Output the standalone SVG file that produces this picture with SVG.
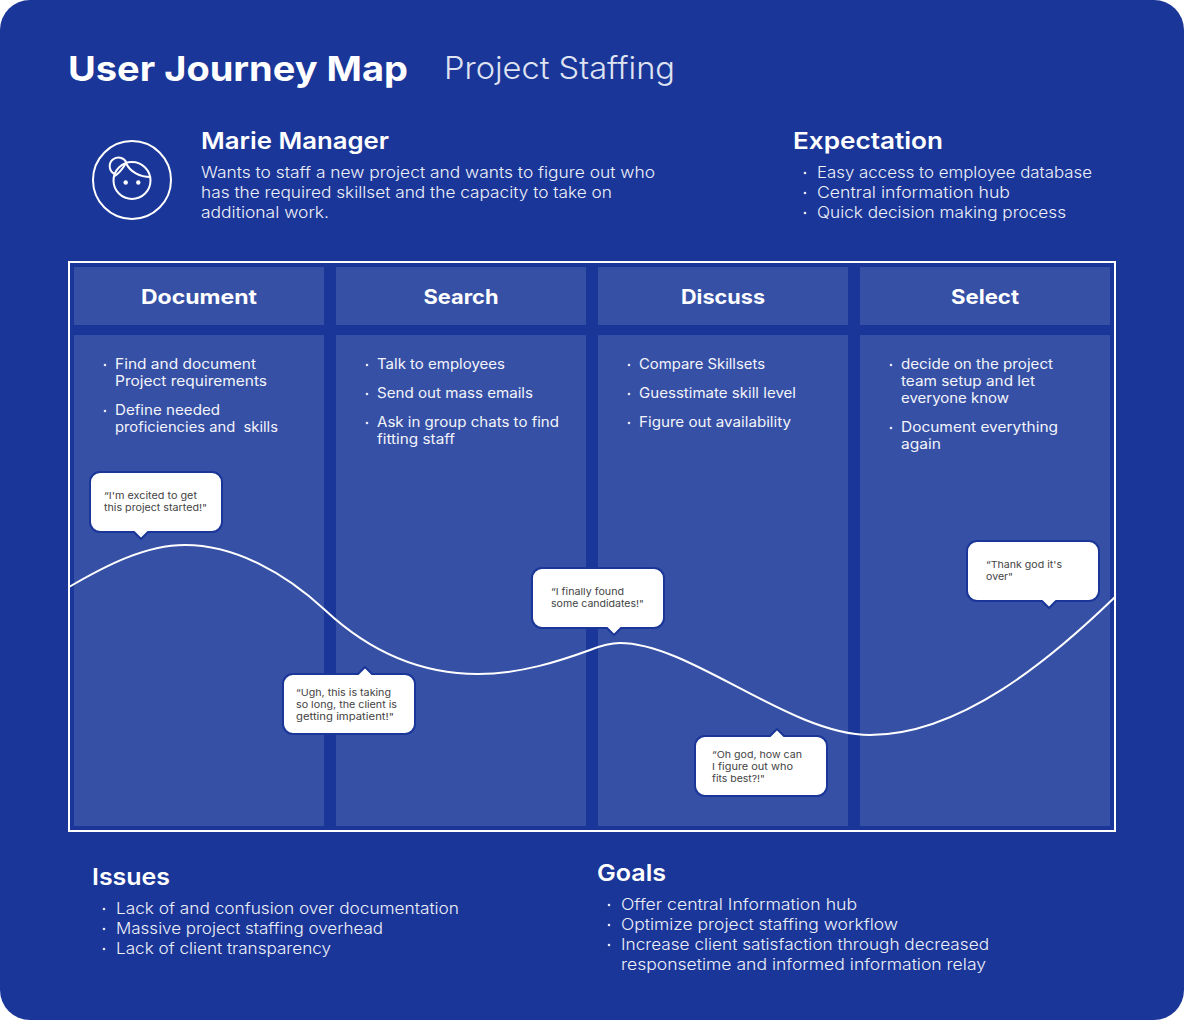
<svg xmlns="http://www.w3.org/2000/svg" width="1184" height="1020" viewBox="0 0 1184 1020">
<style>
text{font-family:Inter,"Open Sans","DejaVu Sans",sans-serif;fill:#fff}
.h1{font-size:34px;font-weight:700}
.sub{font-size:31px;font-weight:300;fill:#dfe3f2}
.h2{font-size:23px;font-weight:600}
.body{font-size:16px;font-weight:300;fill:#eef0f8}
.col{font-size:20px;font-weight:700;text-anchor:middle}
.li{font-size:14px;font-weight:400;fill:#f4f5fb;white-space:pre}
.q{font-size:9.5px;font-weight:400;fill:#444}
.panel{fill:#3650a6}
.bub{fill:#fff;stroke:#1a3698;stroke-width:2;stroke-linejoin:round}
.dot{fill:#e6e9f5}
.ic{fill:none;stroke:#fff;stroke-width:2}
</style>
<rect width="1184" height="1020" fill="#fff"/>
<rect id="background" width="1184" height="1020" rx="30" fill="#1a3698"/>
<g id="title">
<text class="h1" x="68" y="81" textLength="340" lengthAdjust="spacingAndGlyphs">User Journey Map</text>
<text class="sub" x="444" y="79" textLength="231" lengthAdjust="spacingAndGlyphs">Project Staffing</text>
</g>
<g id="persona">
<circle class="ic" cx="132" cy="180" r="39"/>
<circle class="ic" cx="132" cy="180.500" r="18.500"/>
<path class="ic" d="M114 176.500C119 173.500 122.500 169 126 163C130 172 140 177 150.500 177"/>
<path class="ic" d="M114.500 174A8.700 8.700 0 1 1 126.500 163"/>
<circle cx="125.700" cy="182.500" r="2.200" fill="#fff"/>
<circle cx="138.300" cy="182.500" r="2.200" fill="#fff"/>
<text class="h2" x="201" y="149" textLength="188" lengthAdjust="spacingAndGlyphs">Marie Manager</text>
<text class="body" x="201" y="178" textLength="454" lengthAdjust="spacingAndGlyphs">Wants to staff a new project and wants to figure out who</text>
<text class="body" x="201" y="198" textLength="411" lengthAdjust="spacingAndGlyphs">has the required skillset and the capacity to take on</text>
<text class="body" x="201" y="218" textLength="128" lengthAdjust="spacingAndGlyphs">additional work.</text>
</g>
<g id="expectation">
<text class="h2" x="793" y="149" textLength="150" lengthAdjust="spacingAndGlyphs">Expectation</text>
<circle class="dot" cx="805" cy="173" r="1.300"/><text class="body" x="817" y="178" textLength="275" lengthAdjust="spacingAndGlyphs">Easy access to employee database</text>
<circle class="dot" cx="805" cy="193" r="1.300"/><text class="body" x="817" y="198" textLength="193" lengthAdjust="spacingAndGlyphs">Central information hub</text>
<circle class="dot" cx="805" cy="213" r="1.300"/><text class="body" x="817" y="218" textLength="249" lengthAdjust="spacingAndGlyphs">Quick decision making process</text>
</g>
<g id="col-document">
<rect class="panel" x="74" y="267" width="250" height="58"/><rect class="panel" x="74" y="335" width="250" height="491"/>
<text class="col" x="199" y="304" textLength="116" lengthAdjust="spacingAndGlyphs">Document</text>
<circle class="dot" cx="105" cy="365" r="1.300"/><text class="li" x="115" y="369" textLength="141" lengthAdjust="spacingAndGlyphs">Find and document</text>
<text class="li" x="115" y="386" textLength="152" lengthAdjust="spacingAndGlyphs">Project requirements</text>
<circle class="dot" cx="105" cy="411" r="1.300"/><text class="li" x="115" y="415" textLength="105" lengthAdjust="spacingAndGlyphs">Define needed</text>
<text class="li" x="115" y="432" textLength="163" lengthAdjust="spacingAndGlyphs">proficiencies and  skills</text>
</g>
<g id="col-search">
<rect class="panel" x="336" y="267" width="250" height="58"/><rect class="panel" x="336" y="335" width="250" height="491"/>
<text class="col" x="461" y="304" textLength="75" lengthAdjust="spacingAndGlyphs">Search</text>
<circle class="dot" cx="367" cy="365" r="1.300"/><text class="li" x="377" y="369" textLength="128" lengthAdjust="spacingAndGlyphs">Talk to employees</text>
<circle class="dot" cx="367" cy="394" r="1.300"/><text class="li" x="377" y="398" textLength="156" lengthAdjust="spacingAndGlyphs">Send out mass emails</text>
<circle class="dot" cx="367" cy="423" r="1.300"/><text class="li" x="377" y="427" textLength="182" lengthAdjust="spacingAndGlyphs">Ask in group chats to find</text>
<text class="li" x="377" y="444" textLength="78" lengthAdjust="spacingAndGlyphs">fitting staff</text>
</g>
<g id="col-discuss">
<rect class="panel" x="598" y="267" width="250" height="58"/><rect class="panel" x="598" y="335" width="250" height="491"/>
<text class="col" x="723" y="304" textLength="84" lengthAdjust="spacingAndGlyphs">Discuss</text>
<circle class="dot" cx="629" cy="365" r="1.300"/><text class="li" x="639" y="369" textLength="126" lengthAdjust="spacingAndGlyphs">Compare Skillsets</text>
<circle class="dot" cx="629" cy="394" r="1.300"/><text class="li" x="639" y="398" textLength="157" lengthAdjust="spacingAndGlyphs">Guesstimate skill level</text>
<circle class="dot" cx="629" cy="423" r="1.300"/><text class="li" x="639" y="427" textLength="152" lengthAdjust="spacingAndGlyphs">Figure out availability</text>
</g>
<g id="col-select">
<rect class="panel" x="860" y="267" width="250" height="58"/><rect class="panel" x="860" y="335" width="250" height="491"/>
<text class="col" x="985" y="304" textLength="68" lengthAdjust="spacingAndGlyphs">Select</text>
<circle class="dot" cx="891" cy="365" r="1.300"/><text class="li" x="901" y="369" textLength="152" lengthAdjust="spacingAndGlyphs">decide on the project</text>
<text class="li" x="901" y="386" textLength="134" lengthAdjust="spacingAndGlyphs">team setup and let</text>
<text class="li" x="901" y="403" textLength="108" lengthAdjust="spacingAndGlyphs">everyone know</text>
<circle class="dot" cx="891" cy="428" r="1.300"/><text class="li" x="901" y="432" textLength="157" lengthAdjust="spacingAndGlyphs">Document everything</text>
<text class="li" x="901" y="449" textLength="40" lengthAdjust="spacingAndGlyphs">again</text>
</g>
<rect id="frame" x="69" y="262" width="1046" height="569" fill="none" stroke="#fff" stroke-width="2"/>
<g id="connectors">
<path d="M69 587C105 566 145 545 185 545C235 545 285 573 325 610C370 652 420 674 478 674C520 674 560 661 590 650C600 646 610 643 620 643C690 643 790 735 870 735C960 735 1050 660 1115 597" fill="none" stroke="#fff" stroke-width="2"/>
</g>
<g id="quote-1">
<path class="bub" d="M100 472H212A10 10 0 0 1 222 482V522A10 10 0 0 1 212 532H148L141 539L134 532H100A10 10 0 0 1 90 522V482A10 10 0 0 1 100 472Z"/>
<text class="q" x="104" y="499" textLength="93" lengthAdjust="spacingAndGlyphs">“I'm excited to get</text>
<text class="q" x="104" y="511" textLength="103" lengthAdjust="spacingAndGlyphs">this project started!"</text>
</g>
<g id="quote-2">
<path class="bub" d="M293 674H358L365 667L372 674H405A10 10 0 0 1 415 684V724A10 10 0 0 1 405 734H293A10 10 0 0 1 283 724V684A10 10 0 0 1 293 674Z"/>
<text class="q" x="296" y="696" textLength="95" lengthAdjust="spacingAndGlyphs">“Ugh, this is taking</text>
<text class="q" x="296" y="708" textLength="101" lengthAdjust="spacingAndGlyphs">so long, the client is</text>
<text class="q" x="296" y="720" textLength="98" lengthAdjust="spacingAndGlyphs">getting impatient!"</text>
</g>
<g id="quote-3">
<path class="bub" d="M542 568H654A10 10 0 0 1 664 578V618A10 10 0 0 1 654 628H621L614 635L607 628H542A10 10 0 0 1 532 618V578A10 10 0 0 1 542 568Z"/>
<text class="q" x="551" y="595" textLength="73" lengthAdjust="spacingAndGlyphs">“I finally found</text>
<text class="q" x="551" y="607" textLength="93" lengthAdjust="spacingAndGlyphs">some candidates!"</text>
</g>
<g id="quote-4">
<path class="bub" d="M705 736H770L777 729L784 736H817A10 10 0 0 1 827 746V786A10 10 0 0 1 817 796H705A10 10 0 0 1 695 786V746A10 10 0 0 1 705 736Z"/>
<text class="q" x="712" y="758" textLength="90" lengthAdjust="spacingAndGlyphs">“Oh god, how can</text>
<text class="q" x="712" y="770" textLength="81" lengthAdjust="spacingAndGlyphs">I figure out who</text>
<text class="q" x="712" y="782" textLength="53" lengthAdjust="spacingAndGlyphs">fits best?!"</text>
</g>
<g id="quote-5">
<path class="bub" d="M977 541H1089A10 10 0 0 1 1099 551V591A10 10 0 0 1 1089 601H1056L1049 608L1042 601H977A10 10 0 0 1 967 591V551A10 10 0 0 1 977 541Z"/>
<text class="q" x="986" y="568" textLength="76" lengthAdjust="spacingAndGlyphs">“Thank god it's</text>
<text class="q" x="986" y="580" textLength="27" lengthAdjust="spacingAndGlyphs">over"</text>
</g>
<g id="issues">
<text class="h2" x="92" y="885" textLength="78" lengthAdjust="spacingAndGlyphs">Issues</text>
<circle class="dot" cx="104" cy="909" r="1.300"/><text class="body" x="116" y="914" textLength="343" lengthAdjust="spacingAndGlyphs">Lack of and confusion over documentation</text>
<circle class="dot" cx="104" cy="929" r="1.300"/><text class="body" x="116" y="934" textLength="267" lengthAdjust="spacingAndGlyphs">Massive project staffing overhead</text>
<circle class="dot" cx="104" cy="949" r="1.300"/><text class="body" x="116" y="954" textLength="215" lengthAdjust="spacingAndGlyphs">Lack of client transparency</text>
</g>
<g id="goals">
<text class="h2" x="597" y="881" textLength="69" lengthAdjust="spacingAndGlyphs">Goals</text>
<circle class="dot" cx="609" cy="905" r="1.300"/><text class="body" x="621" y="910" textLength="236" lengthAdjust="spacingAndGlyphs">Offer central Information hub</text>
<circle class="dot" cx="609" cy="925" r="1.300"/><text class="body" x="621" y="930" textLength="277" lengthAdjust="spacingAndGlyphs">Optimize project staffing workflow</text>
<circle class="dot" cx="609" cy="945" r="1.300"/><text class="body" x="621" y="950" textLength="368" lengthAdjust="spacingAndGlyphs">Increase client satisfaction through decreased</text>
<text class="body" x="621" y="970" textLength="365" lengthAdjust="spacingAndGlyphs">responsetime and informed information relay</text>
</g>
</svg>
